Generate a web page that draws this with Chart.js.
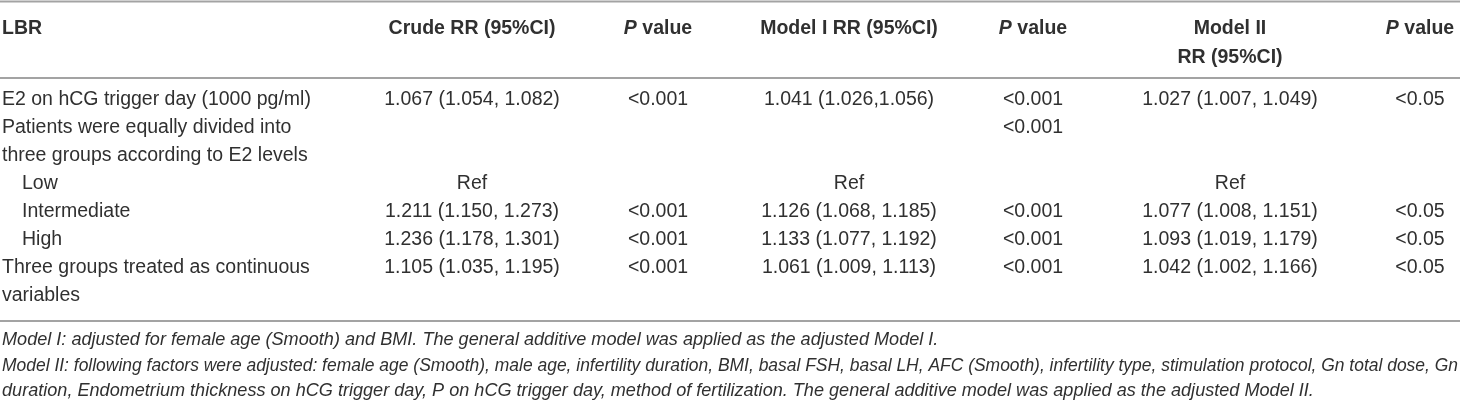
<!DOCTYPE html>
<html>
<head>
<meta charset="utf-8">
<script src="https://cdn.jsdelivr.net/npm/chart.js@4.4.1/dist/chart.umd.min.js"></script>
<style>
  html, body { margin: 0; padding: 0; background: #fff; }
  #wrap { width: 1460px; height: 403px; }
</style>
</head>
<body>
<div id="wrap"><canvas id="table" width="1460" height="403"></canvas></div>
<script>
// Table content
const headers = ['LBR', 'Crude RR (95%CI)', 'P value', 'Model I RR (95%CI)', 'P value', 'Model II|RR (95%CI)', 'P value'];
const rowLabels = [
  'E2 on hCG trigger day (1000 pg/ml)',
  'Patients were equally divided into',
  'three groups according to E2 levels',
  'Low',
  'Intermediate',
  'High',
  'Three groups treated as continuous',
  'variables'
];
const indented = [false, false, false, true, true, true, false, false];
const crudeRR = ['1.067 (1.054, 1.082)', '', '', 'Ref', '1.211 (1.150, 1.273)', '1.236 (1.178, 1.301)', '1.105 (1.035, 1.195)', ''];
const crudeP = ['<0.001', '', '', '', '<0.001', '<0.001', '<0.001', ''];
const model1RR = ['1.041 (1.026,1.056)', '', '', 'Ref', '1.126 (1.068, 1.185)', '1.133 (1.077, 1.192)', '1.061 (1.009, 1.113)', ''];
const model1P = ['<0.001', '<0.001', '', '', '<0.001', '<0.001', '<0.001', ''];
const model2RR = ['1.027 (1.007, 1.049)', '', '', 'Ref', '1.077 (1.008, 1.151)', '1.093 (1.019, 1.179)', '1.042 (1.002, 1.166)', ''];
const model2P = ['<0.05', '', '', '', '<0.05', '<0.05', '<0.05', ''];
const footnotes = [
  'Model I: adjusted for female age (Smooth) and BMI. The general additive model was applied as the adjusted Model I.',
  'Model II: following factors were adjusted: female age (Smooth), male age, infertility duration, BMI, basal FSH, basal LH, AFC (Smooth), infertility type, stimulation protocol, Gn total dose, Gn',
  'duration, Endometrium thickness on hCG trigger day, P on hCG trigger day, method of fertilization. The general additive model was applied as the adjusted Model II.'
];

// Layout (in scale units = page pixels)
const colX = [2, 472, 658, 849, 1033, 1230, 1420];
const indentX = 22;
const headerY = [29, 58];
const bodyTop = 100;
const rowStep = 28;
const rules = [1.5, 78, 321];
const footY = [340, 366, 391];
const textColor = '#303030';
const ruleColor = '#a3a3a3';
const fontFamily = '"Liberation Sans", Arial, Helvetica, sans-serif';
const bodyFont = '19.5px ' + fontFamily;
const headFont = 'bold 19.5px ' + fontFamily;
const footFont = 'italic 18.1px ' + fontFamily;

const columnsData = [rowLabels, crudeRR, crudeP, model1RR, model1P, model2RR, model2P];

const datasets = columnsData.map((col, c) => ({
  label: headers[c],
  data: col.map((txt, i) => ({
    x: c === 0 && indented[i] ? indentX : colX[c],
    y: bodyTop + i * rowStep,
    text: txt
  })),
  pointRadius: 0,
  showLine: false
}));

const tablePlugin = {
  id: 'tableText',
  afterDatasetsDraw(chart) {
    const ctx = chart.ctx;
    const xs = chart.scales.x, ys = chart.scales.y;
    ctx.save();

    // horizontal rules
    ctx.strokeStyle = ruleColor;
    ctx.lineWidth = 2;
    rules.forEach(r => {
      const py = ys.getPixelForValue(r);
      ctx.beginPath();
      ctx.moveTo(xs.getPixelForValue(0), py);
      ctx.lineTo(xs.getPixelForValue(1460), py);
      ctx.stroke();
    });

    ctx.fillStyle = textColor;
    ctx.textBaseline = 'middle';

    // header
    headers.forEach((h, c) => {
      const lines = h.split('|');
      lines.forEach((line, k) => {
        const px = xs.getPixelForValue(colX[c]);
        const py = ys.getPixelForValue(headerY[k]);
        if (line.startsWith('P ')) {
          ctx.font = 'italic ' + headFont;
          const w1 = ctx.measureText('P').width;
          ctx.font = headFont;
          const w2 = ctx.measureText(line.slice(1)).width;
          const start = px - (w1 + w2) / 2;
          ctx.textAlign = 'left';
          ctx.font = 'italic ' + headFont;
          ctx.fillText('P', start, py);
          ctx.font = headFont;
          ctx.fillText(line.slice(1), start + w1, py);
        } else {
          ctx.font = headFont;
          ctx.textAlign = c === 0 ? 'left' : 'center';
          ctx.fillText(line, px, py);
        }
      });
    });

    // body cells, placed at each point element
    ctx.font = bodyFont;
    chart.data.datasets.forEach((ds, c) => {
      const meta = chart.getDatasetMeta(c);
      ctx.textAlign = c === 0 ? 'left' : 'center';
      meta.data.forEach((el, i) => {
        const txt = ds.data[i].text;
        if (txt) ctx.fillText(txt, el.x, el.y);
      });
    });

    // footnotes
    ctx.font = footFont;
    ctx.textAlign = 'left';
    footnotes.forEach((f, k) => {
      const px = xs.getPixelForValue(2);
      const py = ys.getPixelForValue(footY[k]);
      if (k === 1) ctx.fillText(f, px, py, 1456);
      else ctx.fillText(f, px, py);
    });
    ctx.restore();
  }
};

new Chart(document.getElementById('table'), {
  type: 'scatter',
  data: { datasets },
  options: {
    responsive: false,
    animation: false,
    layout: { padding: 0 },
    plugins: { legend: { display: false }, tooltip: { enabled: false } },
    scales: {
      x: { type: 'linear', min: 0, max: 1460, display: false },
      y: { type: 'linear', min: 0, max: 403, reverse: true, display: false }
    }
  },
  plugins: [tablePlugin]
});
</script>
</body>
</html>
